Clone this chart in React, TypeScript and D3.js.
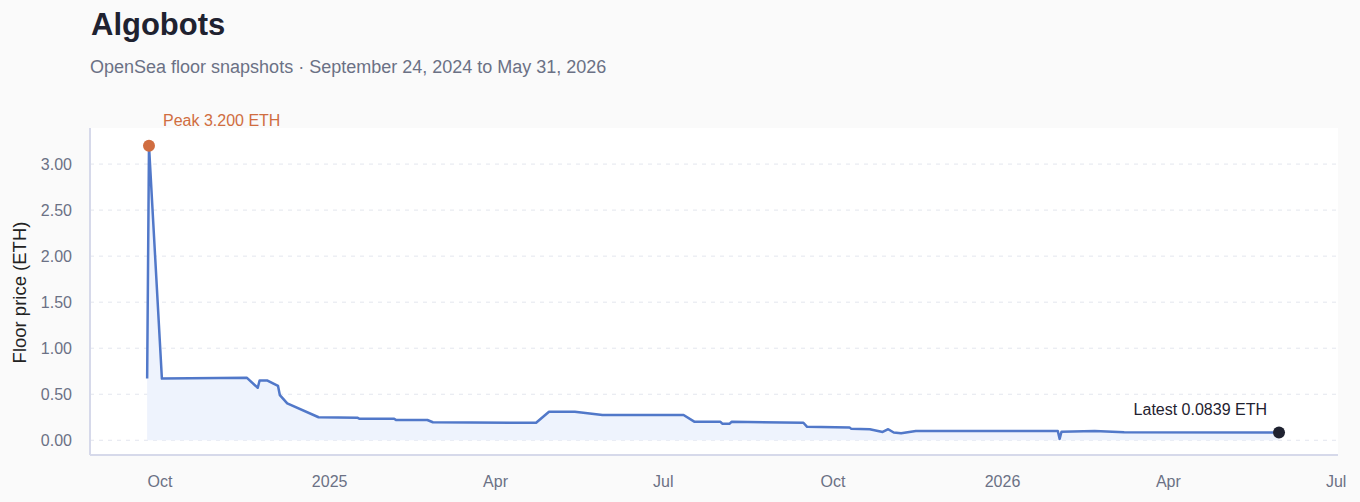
import React from 'react';
import * as d3 from 'd3';

// OpenSea floor snapshots (ETH)
const snapshotDates = [
    '2024-09-24', '2024-09-25', '2024-10-02', '2024-11-17', '2024-11-23', '2024-11-24',
    '2024-11-28', '2024-12-04', '2024-12-05', '2024-12-09', '2024-12-26', '2025-01-16',
    '2025-01-17', '2025-02-05', '2025-02-06', '2025-02-23', '2025-02-26', '2025-04-23',
    '2025-04-30', '2025-05-14', '2025-05-29', '2025-07-12', '2025-07-18', '2025-08-01',
    '2025-08-02', '2025-08-06', '2025-08-07', '2025-09-15', '2025-09-17', '2025-10-10',
    '2025-10-11', '2025-10-21', '2025-10-28', '2025-10-31', '2025-11-03', '2025-11-07',
    '2025-11-15', '2026-01-31', '2026-02-01', '2026-02-02', '2026-02-20', '2026-03-08',
    '2026-05-31',
];
const floorPrices = [
    0.67, 3.2, 0.67, 0.68, 0.57, 0.65,
    0.65, 0.59, 0.49, 0.4, 0.25, 0.245,
    0.235, 0.235, 0.22, 0.22, 0.196, 0.19,
    0.31, 0.31, 0.275, 0.275, 0.2, 0.2,
    0.18, 0.18, 0.2, 0.19, 0.146, 0.14,
    0.124, 0.12, 0.09, 0.12, 0.084, 0.076,
    0.1, 0.1, 0.015, 0.092, 0.1, 0.086,
    0.0839,
];
const xDomain = ['2024-08-24', '2026-07-02'];
const yTicks = [0, 0.5, 1, 1.5, 2, 2.5, 3];

const FONT = '"Liberation Sans", Arial, Helvetica, sans-serif';
const W = 1360;
const H = 502;

const App = () => {
    const parse = d3.timeParse('%Y-%m-%d');
    const data = snapshotDates.map((d, i) => ({ date: parse(d) as Date, value: floorPrices[i] }));

    const left = 90, right = 1338, top = 128, bottom = 455;

    const x = d3.scaleTime()
        .domain(xDomain.map(d => parse(d) as Date))
        .range([left, right]);

    const maxV = d3.max(data, d => d.value) as number;
    const y = d3.scaleLinear()
        .domain([-maxV * 0.05, maxV * 1.06])
        .range([bottom, top]);

    const line = d3.line<{ date: Date; value: number }>()
        .x(d => x(d.date))
        .y(d => y(d.value));
    const area = d3.area<{ date: Date; value: number }>()
        .x(d => x(d.date))
        .y0(y(0))
        .y1(d => y(d.value));

    const xTicks = x.ticks(d3.timeMonth.every(3) as d3.TimeInterval);
    const fmtX = (d: Date) => (d.getMonth() === 0 ? d3.timeFormat('%Y')(d) : d3.timeFormat('%b')(d));

    const peak = data.reduce((a, b) => (b.value > a.value ? b : a));
    const last = data[data.length - 1];

    return (
        <svg width={W} height={H} style={{ position: 'absolute', left: 0, top: 0, fontFamily: FONT }}>
            <rect width={W} height={H} fill="#fafafa" />
            <text x={91} y={35} fontSize={31} fontWeight="bold" fill="#1f2230">Algobots</text>
            <text x={90} y={73} fontSize={18} fill="#6b7185">
                OpenSea floor snapshots · September 24, 2024 to May 31, 2026
            </text>

            <rect x={left} y={top} width={right - left} height={bottom - top} fill="#ffffff" />

            {yTicks.map(t => (
                <g key={t}>
                    <line x1={left} x2={right} y1={y(t)} y2={y(t)} stroke="#e3e6ee" strokeDasharray="4,5" />
                    <text x={72} y={y(t)} dy="0.35em" textAnchor="end" fontSize={16} fill="#6b7185">
                        {d3.format('.2f')(t)}
                    </text>
                </g>
            ))}

            <line x1={left} x2={left} y1={top} y2={bottom} stroke="#d6d9ea" strokeWidth={2} />
            <line x1={left} x2={right} y1={bottom} y2={bottom} stroke="#d6d9ea" strokeWidth={2} />

            {xTicks.map(t => (
                <text key={t.getTime()} x={x(t)} y={487} textAnchor="middle" fontSize={16} fill="#6b7185">
                    {fmtX(t)}
                </text>
            ))}

            <text transform={`translate(26, ${(top + bottom) / 2 + 1}) rotate(-90)`} textAnchor="middle"
                fontSize={18.5} fill="#222">
                Floor price (ETH)
            </text>

            <path d={area(data) as string} fill="#eef3fd" />
            <path d={line(data) as string} fill="none" stroke="#5178c9" strokeWidth={2.5} strokeLinejoin="round" />

            <circle cx={x(peak.date)} cy={y(peak.value)} r={6} fill="#d06d40" />
            <text x={x(peak.date) + 14} y={126} fontSize={16} fill="#d06d40">
                Peak {peak.value.toFixed(3)} ETH
            </text>

            <circle cx={x(last.date)} cy={y(last.value)} r={6} fill="#1f2230" />
            <text x={x(last.date) - 12} y={415} textAnchor="end" fontSize={16} fill="#1f2230">
                Latest {last.value.toFixed(4)} ETH
            </text>
        </svg>
    );
};

export default App;
